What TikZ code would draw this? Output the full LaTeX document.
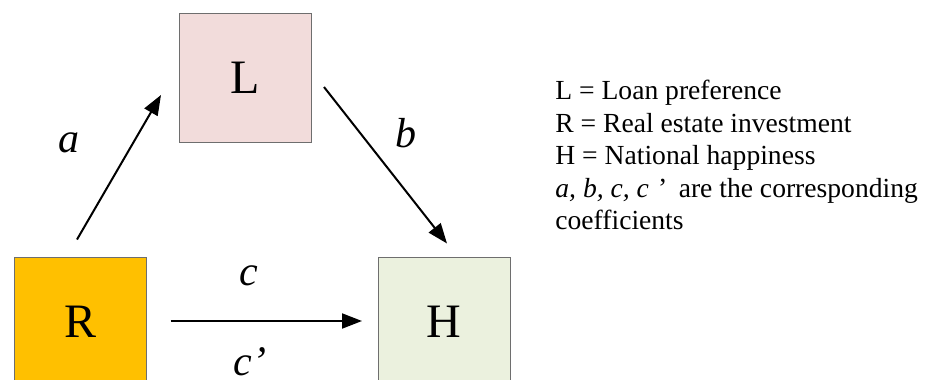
\documentclass[tikz,border=0pt]{standalone}
\usepackage{fontspec}
\setmainfont{Liberation Serif}
\usepackage{tikz}
\usetikzlibrary{positioning,arrows.meta,calc}
\definecolor{LoanPink}{HTML}{F2DCDB}
\definecolor{EstateGold}{HTML}{FFC000}
\definecolor{HappyGreen}{HTML}{EBF1DE}
\definecolor{BoxEdge}{HTML}{6E6E6E}

\begin{document}
\begin{tikzpicture}[
  x=0.5pt,y=-0.5pt,
  >=Triangle,
  varbox/.style={draw=BoxEdge,line width=0.5pt,minimum width=66pt,minimum height=64.5pt,inner sep=0pt,outer sep=0pt,font=\fontsize{24}{28}\selectfont},
  path/.style={-{Triangle[length=10pt,width=7.5pt]},line width=1pt},
  coef/.style={inner sep=0pt,font=\fontsize{21}{24}\selectfont\itshape},
  legend/.style={anchor=north west,align=left,font=\fontsize{13.8}{16.2}\selectfont,inner sep=0pt}
]
\useasboundingbox (0,0) rectangle (934,380);

% Variables
\node[varbox,fill=LoanPink] (loan) at (245,77.5) {L};
\node[varbox,fill=EstateGold] (estate) at (80.5,322) {R};
\node[varbox,fill=HappyGreen] (happy) at (444,322) {H};

% Paths
\draw[path] ($(estate.north)+(-3.5,-18)$) -- ($(loan.west)+(-18,17.5)$);
\draw[path] ($(loan.east)+(13,9.5)$) -- ($(happy.north)+(3,-14)$);
\draw[path] ($(estate.east)+(24,-1)$) -- ($(happy.west)+(-16,-1)$);

% Coefficients
\node[coef] (coefa) at (69,143) {a};
\node[coef] (coefb) at (406,133) {b};
\node[coef] (coefc) at (249,276) {c};
\node[coef] (coefcp) at (250,362) {c’};

% Legend
\node[legend] (key) at (555,80)
  {L = Loan preference\\
   R = Real estate investment\\
   H = National happiness\\
   \textit{a, b, c, c}\,\,’\ \,are the corresponding\\
   coefficients};

\end{tikzpicture}
\end{document}
